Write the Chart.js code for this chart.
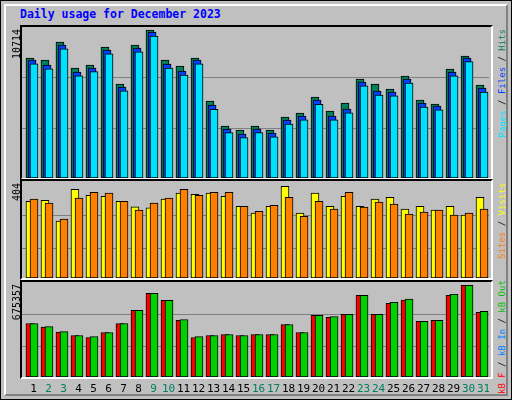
<!DOCTYPE html>
<html><head><meta charset="utf-8">
<script src="https://cdn.jsdelivr.net/npm/chart.js@4"></script>
<style>
body{margin:0;background:#c0c0c0;font-family:"DejaVu Sans Mono",monospace;}
#wrap{position:absolute;left:0;top:0;width:510px;height:398px;border:1px solid #000;background:#c0c0c0;overflow:hidden}
#bevel{position:absolute;left:3px;top:3px;width:500px;height:388px;border-top:2px solid #fff;border-left:2px solid #fff;border-right:2px solid #808080;border-bottom:2px solid #808080}
.panel{position:absolute;left:19px;width:469px;border-top:2px solid #000;border-left:2px solid #000;border-right:2px solid #fff;border-bottom:2px solid #fff}
canvas{position:absolute}
.rot{position:absolute;transform-origin:top left;transform:rotate(-90deg);text-align:right;white-space:nowrap;font-size:10px;line-height:12px}
.leg{font-size:9px}
#title{position:absolute;left:19px;top:6px;font-weight:bold;font-size:11.5px;color:#0000ff}
</style></head><body>
<div id="wrap"><div id="bevel"></div>
<div id="title">Daily usage for December 2023</div>
<div class="panel" style="top:24px;height:151px"></div>
<div class="panel" style="top:178px;height:97px"></div>
<div class="panel" style="top:279px;height:95px"></div>
<canvas id="c1" style="left:21px;top:27px;width:467px;height:150px" width="467" height="150"></canvas>
<canvas id="c2" style="left:21px;top:181px;width:467px;height:96px" width="467" height="96"></canvas>
<canvas id="c3" style="left:21px;top:282px;width:467px;height:114px" width="467" height="114"></canvas>
<div class="rot" style="left:10px;top:88px;width:60px">10714</div>
<div class="rot" style="left:10px;top:242px;width:60px">404</div>
<div class="rot" style="left:10px;top:343px;width:60px">675357</div>
<div class="rot leg" style="left:495px;top:178px;width:150px"><span style="color:#00e0ff">Pages</span> / <span style="color:#0040ff">Files</span> / <span style="color:#00805c">Hits</span></div>
<div class="rot leg" style="left:495px;top:278px;width:96px"><span style="color:#ff8000">Sites</span> / <span style="color:#ffff00">Visits</span></div>
<div class="rot leg" style="left:495px;top:393px;width:110px"><span style="color:#ff0000">kB F</span> / <span style="color:#0080ff">kB In</span> / <span style="color:#00c000">kB Out</span></div>
</div>
<script>
const days = Array.from({length:31},(_,i)=>i+1);
const weekends = [2,3,9,10,16,17,23,24,30,31];
const hits  = [8460,8318,9587,7754,7966,9234,6626,9375,10433,8318,7895,8460,5428,3666,3384,3666,3384,4300,4582,5710,4723,5287,6979,6626,6274,7190,5499,5217,7684,8600,6556];
const files = [8319,7967,9377,7473,7755,9024,6416,9165,10293,8037,7544,8319,5147,3455,3102,3455,3173,4089,4371,5499,4371,4865,6768,6134,6063,6980,5288,5076,7473,8460,6345];
const pages = [8050,7700,9100,7200,7500,8750,6150,8900,10000,7750,7250,8050,4850,3200,2850,3200,2900,3800,4100,5200,4100,4600,6500,5850,5800,6700,5000,4800,7200,8200,6050];
const visits = [323,327,240,373,348,344,323,300,295,332,357,352,357,344,302,273,302,386,273,357,302,344,302,332,340,290,302,286,302,265,340];
const sites  = [332,315,248,336,361,357,323,286,315,336,373,348,361,361,302,281,306,340,260,323,290,361,298,319,311,269,277,286,265,273,290];
const kbF   = [380480,354322,318652,294872,280604,316274,380480,473222,594500,544562,401882,280604,294872,302006,294872,302006,302006,373346,316274,437552,423284,444686,580232,444686,523160,546940,394748,401882,580232,651572,458954];
const kbOut = [380480,359000,323000,294872,287500,316274,380480,473222,594500,544562,408800,287500,294872,302006,294872,302006,302006,373346,316274,437552,430200,444686,580232,444686,530000,553800,394748,401882,587100,651572,465800];
const kbIn  = [5000,5000,5000,5000,5000,5000,5000,5000,5000,5000,5000,5000,5000,5000,5000,5000,5000,5000,5000,5000,5000,5000,5000,5000,5000,5000,5000,5000,5000,5000,5000];

function ds(vals, off, color){
  return {data: days.map((d,i)=>({x:d+off,y:vals[i]})), backgroundColor:color, borderColor:'#000',
    borderWidth:1, borderSkipped:false, barThickness:8, grouped:false};
}
function mk(id, datasets, max, grid, extra){
  return new Chart(document.getElementById(id), {
    type:'bar', data:{datasets},
    options:{responsive:false, animation:false, devicePixelRatio:1,
      layout:{padding:{left:0,right:0,top:0,bottom:extra?extra.pad:0}},
      plugins:{legend:{display:false},tooltip:{enabled:false}},
      scales:{
        x:{type:'linear',min:0.2,max:31.33,offset:false,display:false},
        y:{min:0,max:max,display:true,ticks:{display:false},border:{display:false},
           grid:{color:'#808080',lineWidth:1,drawTicks:false},
           afterBuildTicks:s=>{s.ticks=grid.map(v=>({value:v}));}}
      }},
    plugins: extra?[extra.plugin]:[]
  });
}
mk('c1',[ds(pages,0,'#00e0ff'),ds(files,-0.13,'#0040ff'),ds(hits,-0.27,'#00805c')],10575,[3504,7069]);
mk('c2',[ds(sites,0,'#ff8000'),ds(visits,-0.27,'#ffff00')],404,[124,265]);
const labels = {id:'lbl', afterDraw(c){
  const ctx=c.ctx, xs=c.scales.x; ctx.save();
  ctx.font='11px "DejaVu Sans Mono"'; ctx.textAlign='center'; ctx.textBaseline='middle';
  days.forEach(d=>{ctx.fillStyle=weekends.includes(d)?'#00805c':'#000';
    ctx.fillText(String(d), xs.getPixelForValue(d)-0.5, c.chartArea.bottom+12);});
  ctx.restore();}};
mk('c3',[ds(kbOut,0,'#00d000'),ds(kbIn,-0.13,'#0040ff'),ds(kbF,-0.27,'#ff0000')],668000,[214020,444686],{pad:20,plugin:labels});
</script></body></html>
